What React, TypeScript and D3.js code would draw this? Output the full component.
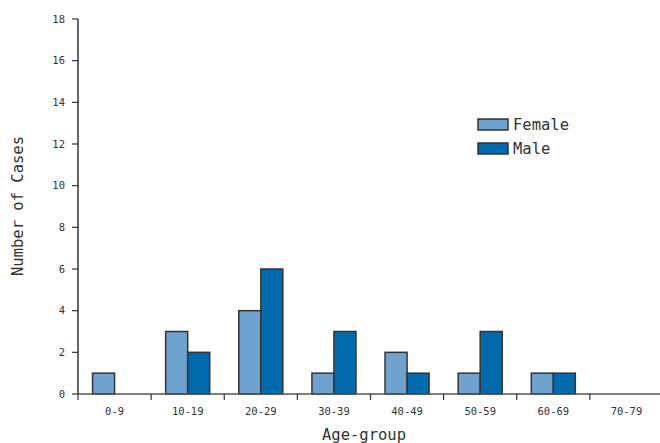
import React from "react";
import * as d3 from "d3";

const categories = ["0-9", "10-19", "20-29", "30-39", "40-49", "50-59", "60-69", "70-79"];
const female = [1, 3, 4, 1, 2, 1, 1, 0];
const male = [0, 2, 6, 3, 1, 3, 1, 0];
const yTicks = [0, 2, 4, 6, 8, 10, 12, 14, 16, 18];
const seriesNames = ["Female", "Male"];
const colors = ["#6fa3cf", "#006aad"];

export default function App() {
  const W = 660, H = 443;
  const left = 78, right = 663, top = 19, bottom = 394;
  const x = d3.scaleBand<string>().domain(categories).range([left, right]).paddingInner(0).paddingOuter(0);
  const y = d3.scaleLinear().domain([0, 18]).range([bottom, top]);
  const inner = d3.scaleBand<string>().domain(seriesNames).range([0, x.bandwidth()]).paddingOuter(0.66).paddingInner(0);
  const font = "'DejaVu Sans Mono', monospace";
  const stroke = "#333";
  return (
    <svg width={W} height={H} style={{ position: "absolute", left: 0, top: 0, background: "#fff" }} fontFamily={font}>
      {categories.map((c, i) =>
        [female[i], male[i]].map((v, j) =>
          v > 0 ? (
            <rect key={c + j} x={(x(c) as number) + (inner(seriesNames[j]) as number)} y={y(v)}
              width={inner.bandwidth()} height={y(0) - y(v)} fill={colors[j]} stroke={stroke} strokeWidth={1.5} />
          ) : null
        )
      )}
      <line x1={left} x2={left} y1={top} y2={bottom} stroke={stroke} strokeWidth={1.5} />
      {yTicks.map((t) => (
        <g key={t}>
          <line x1={left - 6} x2={left} y1={y(t)} y2={y(t)} stroke={stroke} strokeWidth={1.2} />
          <text x={left - 13} y={y(t)} dy="0.35em" textAnchor="end" fontSize={10.5} fill="#333">{t}</text>
        </g>
      ))}
      <line x1={left} x2={W} y1={bottom} y2={bottom} stroke="#555" strokeWidth={1.5} />
      {categories.map((c) => (
        <g key={c}>
          <line x1={x(c) as number} x2={x(c) as number} y1={bottom} y2={bottom + 6} stroke={stroke} strokeWidth={1.2} />
          <text x={(x(c) as number) + x.bandwidth() / 2} y={bottom + 21} textAnchor="middle" fontSize={10.5} fill="#333">{c}</text>
        </g>
      ))}
      <text transform={`translate(23,206) rotate(-90)`} textAnchor="middle" fontSize={15.5} fill="#333">Number of Cases</text>
      <text x={364} y={440} textAnchor="middle" fontSize={15.5} fill="#333">Age-group</text>
      {seriesNames.map((s, j) => (
        <g key={s} transform={`translate(478,${119 + j * 24})`}>
          <rect x={0} y={0} width={30} height={11} fill={colors[j]} stroke={stroke} strokeWidth={1.5} />
          <text x={35} y={6} dy="0.35em" fontSize={15.5} fill="#333">{s}</text>
        </g>
      ))}
    </svg>
  );
}
